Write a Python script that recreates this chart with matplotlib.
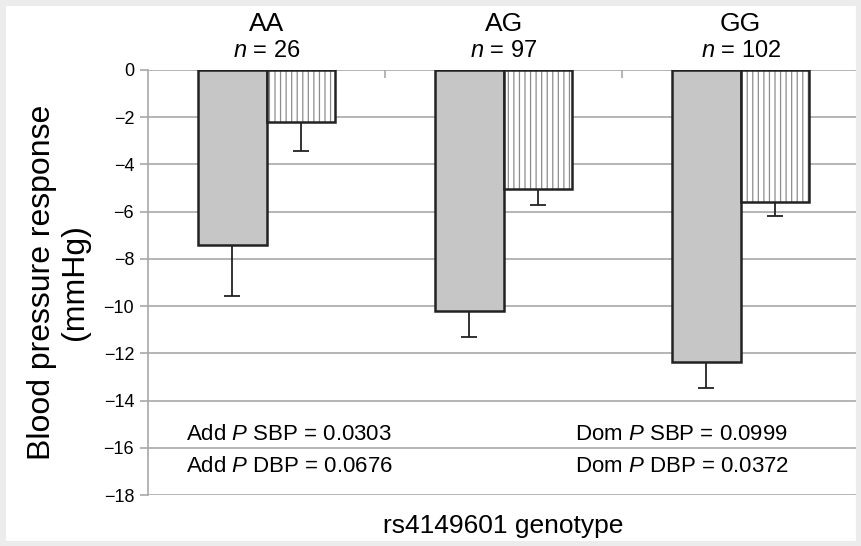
import matplotlib.pyplot as plt
import matplotlib.patches as mpatches
import numpy as np

# genotype groups and sample sizes
genotypes = ["AA", "AG", "GG"]
n_sizes = [26, 97, 102]

# mean blood pressure change (mmHg) and lower error
sbp = [-7.4, -10.2, -12.35]
sbp_err = [2.15, 1.1, 1.1]
dbp = [-2.2, -5.05, -5.6]
dbp_err = [1.25, 0.65, 0.6]

add_p = ["Add $P$ SBP = 0.0303", "Add $P$ DBP = 0.0676"]
dom_p = ["Dom $P$ SBP = 0.0999", "Dom $P$ DBP = 0.0372"]

plt.rcParams["font.family"] = ["Liberation Sans", "DejaVu Sans"]
plt.rcParams["mathtext.fontset"] = "custom"
plt.rcParams["mathtext.it"] = "Liberation Sans:italic"
plt.rcParams["mathtext.rm"] = "Liberation Sans"
plt.rcParams["hatch.linewidth"] = 0.9

fig = plt.figure(figsize=(8.61, 5.46), dpi=100, facecolor="white")
# light grey frame around the picture
fig.patches.append(mpatches.Rectangle((0, 0), 1, 1, transform=fig.transFigure,
                                      fill=False, edgecolor="#ececec", linewidth=8))
ax = fig.add_axes([0.172, 0.093, 0.826, 0.779])

x = np.arange(len(genotypes))
w = 0.29

ax.bar(x - w / 2, sbp, w, color="#c6c6c6", edgecolor="#222222", linewidth=1.8, zorder=3)
ax.errorbar(x - w / 2, sbp, yerr=[sbp_err, [0] * 3], fmt="none", ecolor="#222222",
            elinewidth=1.3, capsize=6, capthick=1.3, zorder=2)

# hatched bar: grey hatch lines, black outline on top
ax.bar(x + w / 2, dbp, w, color="white", edgecolor="#8c8c8c", hatch="|||",
       linewidth=0, zorder=3)
ax.bar(x + w / 2, dbp, w, fill=False, edgecolor="#222222", linewidth=1.8, zorder=4)
ax.errorbar(x + w / 2, dbp, yerr=[dbp_err, [0] * 3], fmt="none", ecolor="#222222",
            elinewidth=1.3, capsize=6, capthick=1.3, zorder=2)

ax.set_xlim(-0.5, 2.5)
ax.set_ylim(-18, 0)
ax.set_yticks(np.arange(-18, 1, 2))
ax.set_yticklabels([str(v).replace("-", "\u2212") for v in range(-18, 1, 2)], fontsize=13)
ax.yaxis.grid(True, color="#a8a8a8", linewidth=1.2, zorder=0)
ax.set_axisbelow(True)

# category boundary ticks hanging from the top
ax.set_xticks([0.5, 1.5])
ax.set_xticklabels([])
ax.tick_params(axis="x", direction="in", top=True, bottom=False, length=6,
               color="#a8a8a8", width=1.2, labeltop=False)
ax.tick_params(axis="y", length=6, color="#a8a8a8", width=1.2, pad=4)

for side in ["top", "right", "bottom"]:
    ax.spines[side].set_visible(False)
ax.spines["left"].set_color("#a8a8a8")
ax.spines["left"].set_linewidth(1.2)

for i, g in enumerate(genotypes):
    ax.text(i, 1.95, g, ha="center", va="center", fontsize=19)
    ax.text(i, 0.8, "$n$ = %d" % n_sizes[i], ha="center", va="center", fontsize=17)

ax.text(-0.34, -15.45, add_p[0], fontsize=16, va="center")
ax.text(-0.34, -16.8, add_p[1], fontsize=16, va="center")
ax.text(1.3, -15.45, dom_p[0], fontsize=16, va="center")
ax.text(1.3, -16.8, dom_p[1], fontsize=16, va="center")

ax.set_ylabel("Blood pressure response\n(mmHg)", fontsize=23, linespacing=1.1,
              labelpad=10)
ax.set_xlabel("rs4149601 genotype", fontsize=19, labelpad=10)

fig.savefig("out.png", dpi=100, facecolor=fig.get_facecolor())
